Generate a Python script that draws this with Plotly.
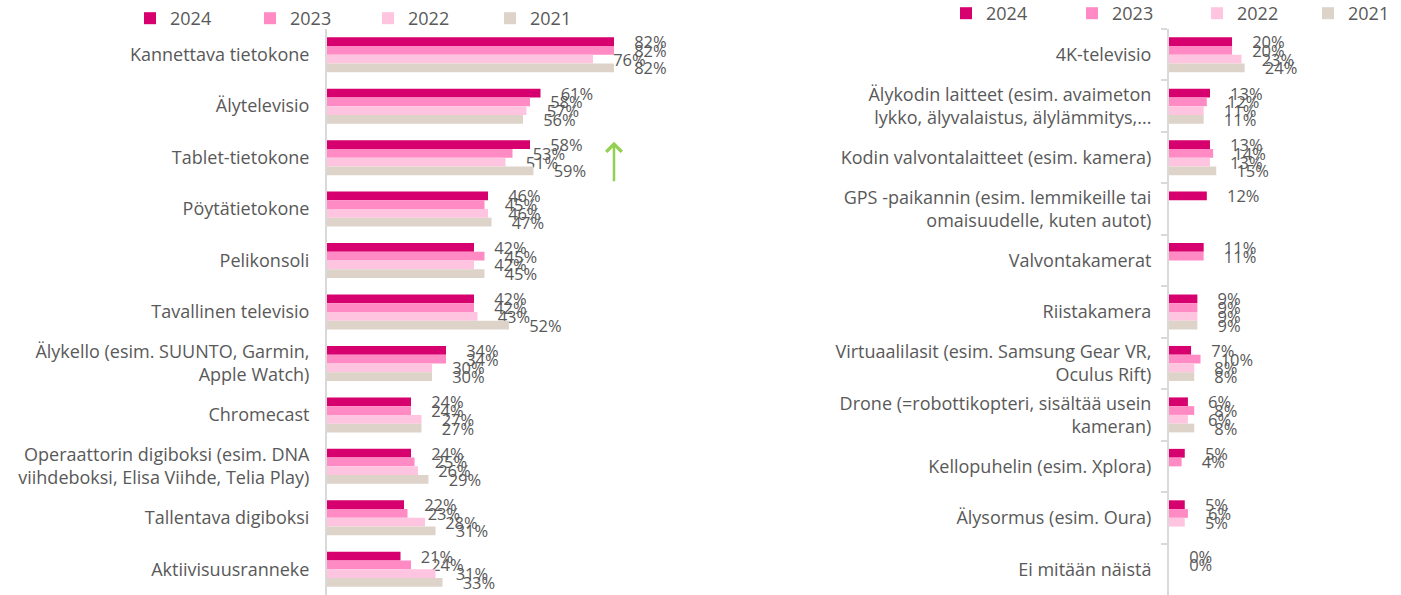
import plotly.graph_objects as go

years = ["2024", "2023", "2022", "2021"]
colors = ["#D6006E", "#FF8AC4", "#FFC5E0", "#DDD3C9"]

left_categories = [
    "Kannettava tietokone",
    "Älytelevisio",
    "Tablet-tietokone",
    "Pöytätietokone",
    "Pelikonsoli",
    "Tavallinen televisio",
    "Älykello (esim. SUUNTO, Garmin,<br>Apple Watch)",
    "Chromecast",
    "Operaattorin digiboksi (esim. DNA<br>viihdeboksi, Elisa Viihde, Telia Play)",
    "Tallentava digiboksi",
    "Aktiivisuusranneke",
]
left_2024 = [82, 61, 58, 46, 42, 42, 34, 24, 24, 22, 21]
left_2023 = [82, 58, 53, 45, 45, 42, 34, 24, 25, 23, 24]
left_2022 = [76, 57, 51, 46, 42, 43, 30, 27, 26, 28, 31]
left_2021 = [82, 56, 59, 47, 45, 52, 30, 27, 29, 31, 33]

right_categories = [
    "4K-televisio",
    "Älykodin laitteet (esim. avaimeton<br>lykko, älyvalaistus, älylämmitys,...",
    "Kodin valvontalaitteet (esim. kamera)",
    "GPS -paikannin (esim. lemmikeille tai<br>omaisuudelle, kuten autot)",
    "Valvontakamerat",
    "Riistakamera",
    "Virtuaalilasit (esim. Samsung Gear VR,<br>Oculus Rift)",
    "Drone (=robottikopteri, sisältää usein<br>kameran)",
    "Kellopuhelin (esim. Xplora)",
    "Älysormus (esim. Oura)",
    "Ei mitään näistä",
]
right_2024 = [20, 13, 13, 12, 11, 9, 7, 6, 5, 5, 0]
right_2023 = [20, 12, 14, None, 11, 9, 10, 8, 4, 6, 0]
right_2022 = [23, 11, 13, None, None, 9, 8, 6, None, 5, None]
right_2021 = [24, 11, 15, None, None, 9, 8, 8, None, None, None]

left_series = [left_2024, left_2023, left_2022, left_2021]
right_series = [right_2024, right_2023, right_2022, right_2021]

FONT = "Open Sans"
GRAY = "#595959"
NB = "\u00a0" * 4

W, H = 1401, 595
MT = 29
PH = H - MT

# legend item anchor positions (px from left) for each year, per panel
left_legend_px = [130, 250, 368, 490]
right_legend_px = [946, 1072, 1197, 1308]

fig = go.Figure()
for i, (yr, col, vals) in enumerate(zip(years, colors, left_series)):
    fig.add_trace(go.Bar(
        y=left_categories, x=vals, name=yr, orientation="h",
        marker=dict(color=col, line=dict(width=0)),
        texttemplate=NB + "%{x}%", textposition="outside",
        constraintext="none", cliponaxis=False,
        textfont=dict(color=GRAY, size=16.5, family=FONT),
        xaxis="x", yaxis="y", legend="legend" if i == 0 else f"legend{i + 1}",
        showlegend=True, hoverinfo="skip",
    ))
for i, (yr, col, vals) in enumerate(zip(years, colors, right_series)):
    fig.add_trace(go.Bar(
        y=right_categories, x=vals, name=yr, orientation="h",
        marker=dict(color=col, line=dict(width=0)),
        texttemplate=NB + "%{x}%", textposition="outside",
        constraintext="none", cliponaxis=False,
        textfont=dict(color=GRAY, size=16.5, family=FONT),
        xaxis="x2", yaxis="y2", legend=f"legend{i + 5}",
        showlegend=True, hoverinfo="skip",
    ))

legends = {}
for i, px in enumerate(left_legend_px):
    key = "legend" if i == 0 else f"legend{i + 1}"
    legends[key] = dict(
        orientation="h", x=px / W, xanchor="left", y=1 + MT / PH, yanchor="top",
        font=dict(size=18, color=GRAY, family=FONT), itemwidth=30,
        bgcolor="rgba(0,0,0,0)", visible=True,
    )
for i, px in enumerate(right_legend_px):
    legends[f"legend{i + 5}"] = dict(
        orientation="h", x=px / W, xanchor="left", y=1 + (MT + 5) / PH, yanchor="top",
        font=dict(size=18, color=GRAY, family=FONT), itemwidth=30,
        bgcolor="rgba(0,0,0,0)", visible=True,
    )

fig.update_layout(
    width=W, height=H,
    showlegend=True,
    margin=dict(l=0, r=0, t=MT, b=0, autoexpand=False),
    paper_bgcolor="white", plot_bgcolor="white",
    barmode="group", bargap=0.32, bargroupgap=0,
    font=dict(family=FONT, color=GRAY, size=18),
    xaxis=dict(domain=[327 / W, 677 / W], range=[0, 100], visible=False, fixedrange=True),
    yaxis=dict(
        anchor="x", domain=[0, 1], autorange="reversed", type="category",
        showline=True, linecolor="#D9D9D9", linewidth=2,
        ticks="", ticklabelstandoff=12, showgrid=False, automargin=False,
        tickfont=dict(size=18, color=GRAY, family=FONT),
    ),
    xaxis2=dict(domain=[1169 / W, 1.0], range=[0, 73.6], visible=False, fixedrange=True),
    yaxis2=dict(
        anchor="x2", domain=[0, 1], autorange="reversed", type="category",
        showline=True, linecolor="#D9D9D9", linewidth=2,
        ticks="outside", tickson="boundaries", ticklen=6, tickcolor="#D9D9D9", tickwidth=2,
        ticklabelstandoff=12, showgrid=False, automargin=False,
        tickfont=dict(size=18, color=GRAY, family=FONT),
    ),
    annotations=[dict(
        x=82, y="Tablet-tietokone", xref="x", yref="y",
        showarrow=True, arrowhead=4, arrowsize=1.2, arrowwidth=2.5,
        arrowcolor="#92D050", ax=0, ay=41, axref="pixel", ayref="pixel",
        yshift=16, text="",
    )],
    **legends,
)

fig.write_html(
    "out.html",
    config={"displayModeBar": False},
    post_script="document.body.style.margin='0';",
)
